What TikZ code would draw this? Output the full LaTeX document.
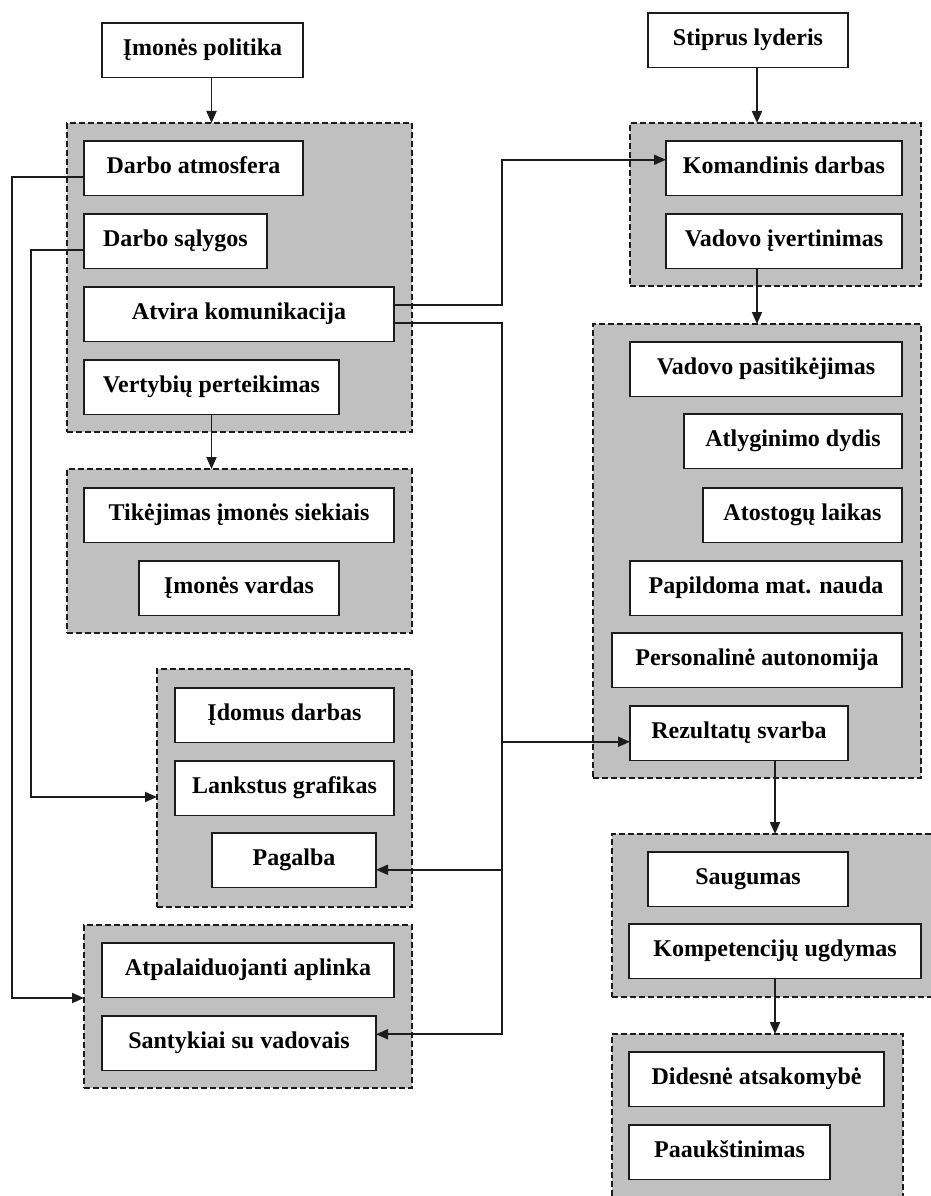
\documentclass[tikz,border=0pt]{standalone}
\usepackage{fontspec}
\setmainfont{Liberation Serif}
\usetikzlibrary{arrows.meta}
\definecolor{panelgray}{RGB}{192,192,192}
\definecolor{inkline}{RGB}{28,28,28}
\begin{document}
\begin{tikzpicture}[x=1pt,y=-1pt,
  panel/.style={draw=inkline, fill=panelgray, dash pattern=on 6pt off 3pt,
    line width=1.4pt, anchor=north west, inner sep=0pt, outer sep=0pt},
  item/.style={draw=inkline, fill=white, line width=1.9pt, anchor=north west,
    inner sep=0pt, outer sep=0pt, minimum height=54.5pt, align=center,
    font=\fontsize{24}{28}\selectfont\bfseries, text height=17pt, text depth=7pt},
  link/.style={draw=inkline, line width=1.8pt},
  arr/.style={link, -{Triangle[length=12pt,width=10pt]}}]
\clip (0,0) rectangle (931,1196);
\fill[white] (0,0) rectangle (931,1196);

% ---------- left column: dashed panels ----------
\node[panel, minimum width=345pt, minimum height=309pt] (g1)  at (67,123) {};
\node[panel, minimum width=345pt, minimum height=164pt] (g2L) at (67,469) {};
\node[panel, minimum width=255pt, minimum height=238pt] (g3L) at (157,669) {};
\node[panel, minimum width=328pt, minimum height=163pt] (g4L) at (84,925) {};

% ---------- right column: dashed panels ----------
\node[panel, minimum width=291pt, minimum height=163pt] (g2R) at (630,123) {};
\node[panel, minimum width=328pt, minimum height=454pt] (g3R) at (593,324) {};
\node[panel, minimum width=330pt, minimum height=163pt] (g4R) at (612,834) {};
\node[panel, minimum width=291pt, minimum height=180pt] (g5R) at (612,1034) {};

% ---------- left column: boxes ----------
\node[item, minimum width=201pt] (pol)  at (102,23)  {Įmonės politika};
\node[item, minimum width=219pt] (atm)  at (84,141)  {Darbo atmosfera};
\node[item, minimum width=183pt] (sal)  at (84,214)  {Darbo sąlygos};
\node[item, minimum width=310pt] (atv)  at (84,287)  {Atvira komunikacija};
\node[item, minimum width=255pt] (vert) at (84,360)  {Vertybių perteikimas};
\node[item, minimum width=310pt] (tik)  at (84,488)  {Tikėjimas įmonės siekiais};
\node[item, minimum width=200pt] (vard) at (139,561) {Įmonės vardas};
\node[item, minimum width=219pt] (ido)  at (175,688) {Įdomus darbas};
\node[item, minimum width=219pt] (lank) at (175,761) {Lankstus grafikas};
\node[item, minimum width=164pt] (pag)  at (212,833) {Pagalba};
\node[item, minimum width=292pt] (atp)  at (102,943) {Atpalaiduojanti aplinka};
\node[item, minimum width=274pt] (san)  at (102,1016) {Santykiai su vadovais};

% ---------- right column: boxes ----------
\node[item, minimum width=200pt] (lyd) at (648,13)   {Stiprus lyderis};
\node[item, minimum width=236pt] (kom) at (666,141)  {Komandinis darbas};
\node[item, minimum width=236pt] (ive) at (666,214)  {Vadovo įvertinimas};
\node[item, minimum width=272pt] (pas) at (630,342)  {Vadovo pasitikėjimas};
\node[item, minimum width=218pt] (atl) at (684,414)  {Atlyginimo dydis};
\node[item, minimum width=199pt] (ato) at (703,488)  {Atostogų laikas};
\node[item, minimum width=272pt] (pap) at (630,561)  {Papildoma mat. nauda};
\node[item, minimum width=290pt] (per) at (612,633)  {Personalinė autonomija};
\node[item, minimum width=218pt] (rez) at (630,706)  {Rezultatų svarba};
\node[item, minimum width=200pt] (sau) at (648,852)  {Saugumas};
\node[item, minimum width=292pt] (kmp) at (629,924)  {Kompetencijų ugdymas};
\node[item, minimum width=255pt] (did) at (629,1052) {Didesnė atsakomybė};
\node[item, minimum width=201pt] (paa) at (629,1125) {Paaukštinimas};

% ---------- rails for the routed connectors ----------
\coordinate (railA) at (12,0);
\coordinate (railB) at (31,0);
\coordinate (railC) at (502,0);
\coordinate (colB)  at (757,0);

% ---------- connectors ----------
\draw[arr] (pol.south -| vert.south) -- (g1.north -| vert.south);
\draw[arr] (vert.south) -- (g2L.north -| vert.south);
\draw[arr] ([yshift=-9pt]atm.west) -- ([yshift=-9pt]atm.west -| railA) |- ([yshift=8.5pt]g4L.west);
\draw[arr] ([yshift=-9pt]sal.west) -- ([yshift=-9pt]sal.west -| railB) |- ([yshift=-9pt]g3L.west);
\draw[arr] ([yshift=9pt]atv.east) -- ([yshift=9pt]atv.east -| railC) |- ([yshift=8.5pt]kom.west);
\draw[arr] ([yshift=-9pt]atv.east) -- ([yshift=-9pt]atv.east -| railC) |- ([yshift=9pt]san.east);
\draw[arr] ([yshift=-8.5pt]rez.west -| railC) -- ([yshift=-8.5pt]rez.west);
\draw[arr] ([yshift=-9.5pt]pag.east -| railC) -- ([yshift=-9.5pt]pag.east);
\draw[arr] (lyd.south -| colB) -- (g2R.north -| colB);
\draw[arr] (ive.south -| colB) -- (g3R.north -| colB);
\draw[arr] (rez.south -| kmp.south) -- (g4R.north -| kmp.south);
\draw[arr] (kmp.south) -- (g5R.north -| kmp.south);
\end{tikzpicture}
\end{document}
